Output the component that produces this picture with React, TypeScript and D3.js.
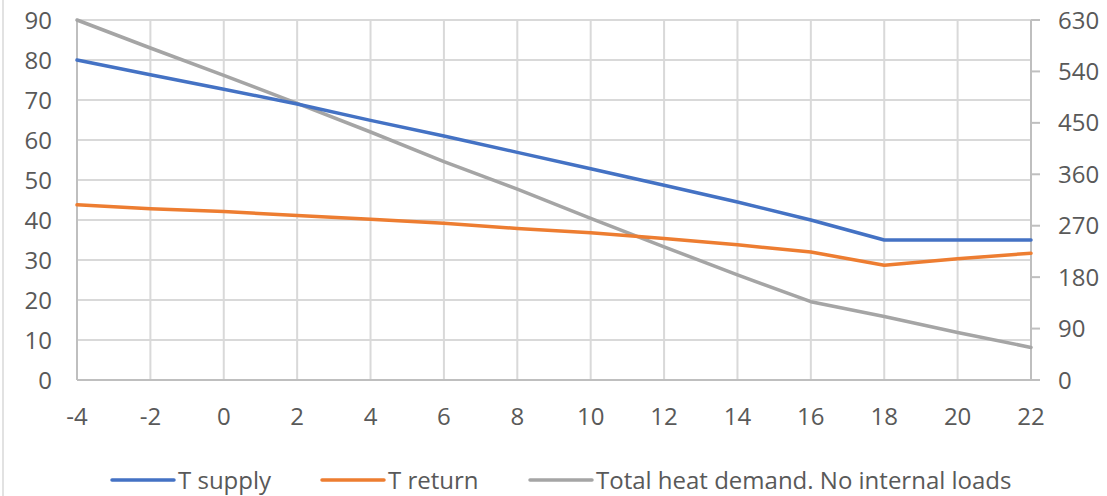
import { useEffect, useRef } from 'react';
import { line, scaleLinear, select } from 'd3';

// outdoor temperature, °C
const temps = [-4, -2, 0, 2, 4, 6, 8, 10, 12, 14, 16, 18, 20, 22];
const tSupply = [80, 76.3, 72.7, 69, 64.9, 61, 56.9, 52.8, 48.7, 44.5, 40, 35, 35, 35];
const tReturn = [43.8, 42.8, 42.1, 41.1, 40.2, 39.2, 37.9, 36.8, 35.4, 33.8, 32, 28.7, 30.3, 31.7];
const heatDemand = [630, 581, 533, 484, 434, 382, 334, 283, 233, 184, 137, 111, 83, 57];

const leftTicks = [0, 10, 20, 30, 40, 50, 60, 70, 80, 90];
const rightTicks = [0, 90, 180, 270, 360, 450, 540, 630];
const xTicks = [-4, -2, 0, 2, 4, 6, 8, 10, 12, 14, 16, 18, 20, 22];

const seriesNames = ['T supply', 'T return', 'Total heat demand. No internal loads'];
const seriesColors = ['#4472C4', '#ED7D31', '#A5A5A5'];

const W = 1107;
const H = 496;
const FONT = '"Open Sans", sans-serif';
const TEXT = '#595959';
const FS = 24;

export default function App() {
  const svgRef = useRef<SVGSVGElement | null>(null);

  useEffect(() => {
    const svgElement = svgRef.current;
    if (!svgElement) return;
    const svg = select(svgElement);
    svg.selectAll('*').remove();

    const margin = { top: 20, right: 76, bottom: 116, left: 77 };
    const x = scaleLinear().domain([-4, 22]).range([margin.left, W - margin.right]);
    const yL = scaleLinear().domain([0, 90]).range([H - margin.bottom, margin.top]);
    const yR = scaleLinear().domain([0, 630]).range([H - margin.bottom, margin.top]);

    svg.append('rect').attr('width', W).attr('height', H).attr('fill', '#ffffff');
    // chart frame edge on the left
    svg.append('line').attr('x1', 3).attr('x2', 3).attr('y1', 0).attr('y2', H)
      .attr('stroke', '#d9d9d9').attr('stroke-width', 1.5);

    const grid = svg.append('g');
    grid.selectAll('line.h')
      .data(leftTicks.slice(1))
      .join('line')
      .attr('class', 'h')
      .attr('x1', x(-4)).attr('x2', x(22))
      .attr('y1', (d) => yL(d)).attr('y2', (d) => yL(d))
      .attr('stroke', '#d9d9d9').attr('stroke-width', 2);
    grid.selectAll('line.v')
      .data(xTicks.slice(1, -1))
      .join('line')
      .attr('class', 'v')
      .attr('x1', (d) => x(d)).attr('x2', (d) => x(d))
      .attr('y1', yL(0)).attr('y2', yL(90))
      .attr('stroke', '#d9d9d9').attr('stroke-width', 2);

    // axes lines
    const axes = svg.append('g').attr('stroke', '#bfbfbf').attr('stroke-width', 2);
    axes.append('line').attr('x1', x(-4)).attr('x2', x(-4)).attr('y1', yL(0)).attr('y2', yL(90));
    axes.append('line').attr('x1', x(22)).attr('x2', x(22)).attr('y1', yL(0)).attr('y2', yL(90));
    axes.append('line').attr('x1', x(-4)).attr('x2', x(22)).attr('y1', yL(0)).attr('y2', yL(0));
    axes.selectAll('line.rt')
      .data(rightTicks)
      .join('line')
      .attr('class', 'rt')
      .attr('x1', x(22)).attr('x2', x(22) + 9)
      .attr('y1', (d) => yR(d)).attr('y2', (d) => yR(d));

    const labels = svg.append('g').attr('font-family', FONT).attr('font-size', FS).attr('fill', TEXT);
    labels.selectAll('text.l')
      .data(leftTicks)
      .join('text')
      .attr('class', 'l')
      .attr('x', 52)
      .attr('y', (d) => yL(d) + 8.5)
      .attr('text-anchor', 'end')
      .text((d) => d);
    labels.selectAll('text.r')
      .data(rightTicks)
      .join('text')
      .attr('class', 'r')
      .attr('x', 1058)
      .attr('y', (d) => yR(d) + 8.5)
      .text((d) => d);
    labels.selectAll('text.x')
      .data(xTicks)
      .join('text')
      .attr('class', 'x')
      .attr('x', (d) => x(d))
      .attr('y', 425)
      .attr('text-anchor', 'middle')
      .text((d) => d);

    const lineL = line<number>().x((_, i) => x(temps[i])).y((d) => yL(d));
    const lineR = line<number>().x((_, i) => x(temps[i])).y((d) => yR(d));

    const plot = svg.append('g').attr('fill', 'none').attr('stroke-width', 3.5)
      .attr('stroke-linejoin', 'round').attr('stroke-linecap', 'round');
    plot.append('path').attr('d', lineR(heatDemand)).attr('stroke', seriesColors[2]);
    plot.append('path').attr('d', lineL(tReturn)).attr('stroke', seriesColors[1]);
    plot.append('path').attr('d', lineL(tSupply)).attr('stroke', seriesColors[0]);

    // legend
    const legendX = [112, 322, 530];
    const legend = svg.append('g').attr('font-family', FONT).attr('font-size', FS).attr('fill', TEXT);
    seriesNames.forEach((name, i) => {
      legend.append('line')
        .attr('x1', legendX[i]).attr('x2', legendX[i] + 62)
        .attr('y1', 480).attr('y2', 480)
        .attr('stroke', seriesColors[i]).attr('stroke-width', 3.5)
        .attr('stroke-linecap', 'round');
      legend.append('text')
        .attr('x', legendX[i] + 66)
        .attr('y', 488.5)
        .text(name);
    });
  }, []);

  return (
    <div style={{ position: 'fixed', left: 0, top: 0 }}>
      <svg ref={svgRef} width={W} height={H} style={{ display: 'block' }} />
    </div>
  );
}
